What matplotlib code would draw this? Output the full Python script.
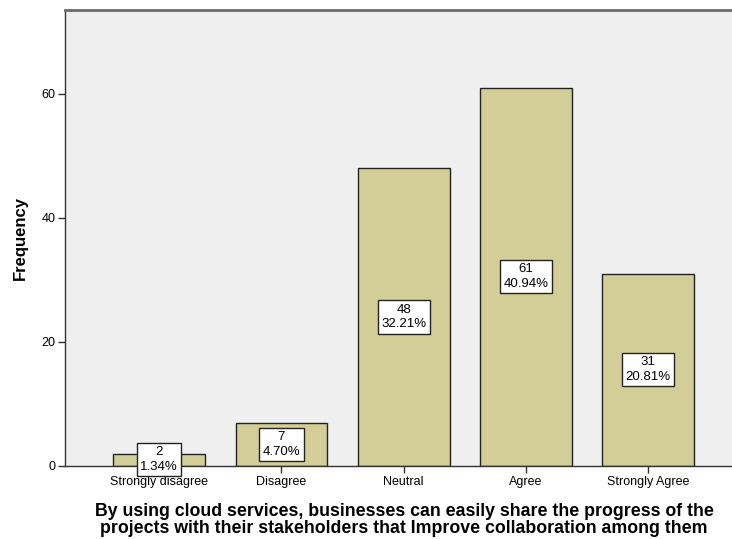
import matplotlib
matplotlib.use("Agg")
import matplotlib.pyplot as plt

categories = ["Strongly disagree", "Disagree", "Neutral", "Agree", "Strongly Agree"]
counts = [2, 7, 48, 61, 31]
percents = ["1.34%", "4.70%", "32.21%", "40.94%", "20.81%"]
yticks = [0, 20, 40, 60]

plt.rcParams['font.family'] = ['Liberation Sans', 'DejaVu Sans']

fig = plt.figure(figsize=(7.32, 5.39), dpi=100)
fig.patch.set_facecolor('white')
ax_left = 65 / 732
ax_w = 1 - ax_left + 0.01
ax = fig.add_axes([ax_left, (539-466)/539, ax_w, (466-10)/539])
ax.set_facecolor('#efefef')

x = list(range(len(categories)))
ax.bar(x, counts, width=0.75, color='#d3ce97', edgecolor='#222222', linewidth=1.0, zorder=2)

for xi, c, p in zip(x, counts, percents):
    ax.text(xi, c / 2, f"{c}\n{p}", ha='center', va='center', fontsize=9.5,
            linespacing=1.3, zorder=3,
            bbox=dict(boxstyle='square,pad=0.25', facecolor='white', edgecolor='#222222', linewidth=1.0))

ax.set_xlim(-0.77, 4.745)
ax.set_ylim(0, 73.5)
ax.set_xticks(x)
ax.set_xticklabels(categories, fontsize=9)
ax.set_yticks(yticks)
ax.set_yticklabels([str(t) for t in yticks], fontsize=9)
ax.tick_params(axis='both', direction='out', length=5, width=1, color='#333333', pad=2)

for s in ['left', 'bottom']:
    ax.spines[s].set_color('#333333')
    ax.spines[s].set_linewidth(1.0)
ax.spines['top'].set_color('#6b6b6b')
ax.spines['top'].set_linewidth(2.0)
ax.spines['right'].set_visible(False)

ax.set_ylabel("Frequency", fontsize=12, fontweight='bold', labelpad=10)
ax.set_xlabel("By using cloud services, businesses can easily share the progress of the\n"
              "projects with their stakeholders that Improve collaboration among them",
              fontsize=12.8, fontweight='bold', linespacing=0.98)
ax.xaxis.set_label_coords((404 - 65) / (732 * ax_w), -0.082)

fig.savefig("out.png", dpi=100)
